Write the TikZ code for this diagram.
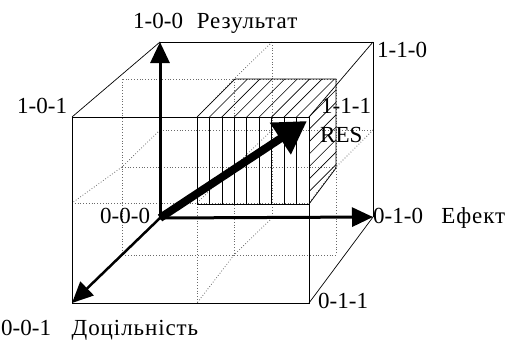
\documentclass[tikz,border=0pt]{standalone}
\usepackage{fontspec}
\setmainfont{Liberation Serif}
\usepackage{tikz}
\usetikzlibrary{positioning, arrows.meta, calc}
\definecolor{Ink}{HTML}{000000}
\definecolor{GridGray}{HTML}{6A6A6A}

\newcommand{\wideword}[1]{{\addfontfeature{LetterSpace=4}#1}}

\tikzset{
  grid/.style={GridGray, dotted, line width=0.8pt},
  edge/.style={Ink, line width=0.7pt},
  hatch/.style={Ink, line width=0.6pt},
  axis/.style={Ink, line width=3pt, -{Triangle[length=21pt, width=19pt]}},
  resarrow/.style={Ink, line width=8pt, -{Triangle[length=32pt, width=36pt]}},
  lbl/.style={font=\fontsize{23}{27}\selectfont, inner sep=0pt},
}

\begin{document}
\begin{tikzpicture}[x=1pt, y=-1pt]
\useasboundingbox (0,0) rectangle (511,340);

% cube corners
\coordinate (o)    at (160,218);
\coordinate (r100) at (160,42);
\coordinate (r110) at (373,42);
\coordinate (e010) at (373,217);
\coordinate (f101) at (72,117);
\coordinate (d001) at (72,303);
\coordinate (f011) at (309,303);
\coordinate (f111) at (309,117);
\coordinate (res)  at (307,121);

% dotted 2x2x2 grid
\draw[grid] (272,42) -- (272,218);
\draw[grid] (160,130) -- (373,130);
\draw[grid] (122,79) rectangle (336,255);
\draw[grid] (234,79) -- (234,255);
\draw[grid] (122,167) -- (336,167);
\draw[grid] (197,117) -- (197,303);
\draw[grid] (72,203) -- (309,203);
\draw[grid] (272,42) -- (234,79) -- (197,117);
\draw[grid] (272,218) -- (234,255) -- (197,303);
\draw[grid] (160,130) -- (122,167) -- (72,203);
\draw[grid] (373,130) -- (336,167) -- (309,203);
\draw[grid] (272,130) -- (234,167) -- (197,203);

% cube edges
\draw[edge] (f101) rectangle (f011);
\draw[edge] (r100) -- (r110) -- (e010);
\draw[edge] (r100) -- (f101);
\draw[edge] (r110) -- (f111);
\draw[edge] (e010) -- (f011);

% hatched sub-cube
\foreach \k in {0,...,9}
  \draw[hatch] ({197+12.44*\k},117) -- ({197+12.44*\k},204);
\draw[edge] (197,204) -- (309,204);
\draw[edge] (197,117) -- (235,79) -- (336,79) -- (336,168) -- (309,204);
\begin{scope}
  \clip (197,117) -- (235,79) -- (336,79) -- (336,168) -- (309,204) -- (309,117) -- cycle;
  \foreach \k in {0,...,16}
    \draw[hatch] (150,{314+12.44*\k-150}) -- (420,{314+12.44*\k-420});
\end{scope}

% axes
\draw[axis] (o) -- (r100);
\draw[axis] (o) -- (e010);
\draw[axis, line width=2.5pt] (o) -- (d001);
\draw[resarrow] (o) -- (res);

% labels
\node[lbl, anchor=base west] (t100) at (133,28) {1-0-0\hspace{.6em}\wideword{Результат}};
\node[lbl, anchor=base west] (t110) at (377,57) {1-1-0};
\node[lbl, anchor=base west] (t101) at (17,113) {1-0-1};
\node[lbl, anchor=base west] (t111) at (321,113) {1-1-1};
\node[lbl, anchor=base west] (tres) at (320,142) {RES};
\node[lbl, anchor=base west] (t000) at (100,223) {0-0-0};
\node[lbl, anchor=base west] (t010) at (373,223) {0-1-0\hspace{.8em}\wideword{Ефект}};
\node[lbl, anchor=base west] (t011) at (318,308) {0-1-1};
\node[lbl, anchor=base west] (t001) at (1,335) {0-0-1\hspace{.9em}\wideword{Доцільність}};
\end{tikzpicture}
\end{document}
